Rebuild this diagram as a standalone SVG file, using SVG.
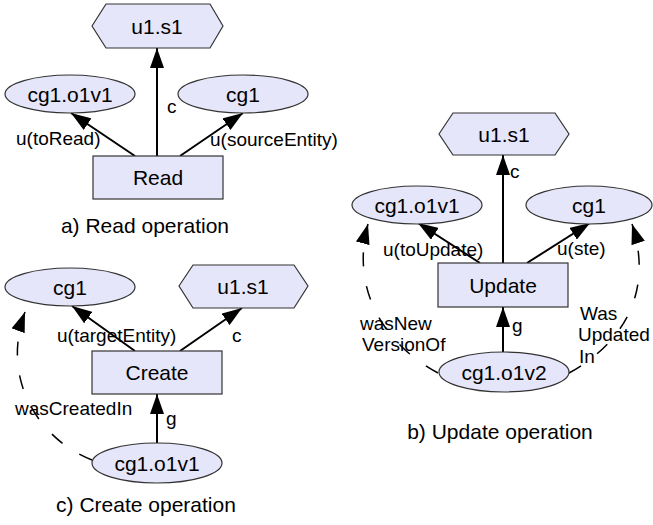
<svg xmlns="http://www.w3.org/2000/svg" width="653" height="525" viewBox="0 0 653 525">
<defs>
<style>
.n{fill:#E6E6FA;stroke:#333;stroke-width:1.2}
.t{font-family:"Liberation Sans",Arial,sans-serif;font-size:21px;fill:#000;text-anchor:middle}
.l{font-family:"Liberation Sans",Arial,sans-serif;font-size:19px;fill:#000}
.cap{font-family:"Liberation Sans",Arial,sans-serif;font-size:21px;fill:#000;text-anchor:middle}
.e{fill:none;stroke:#000;stroke-width:2;marker-end:url(#ah)}
.d{fill:none;stroke:#000;stroke-width:1.5;stroke-dasharray:14 20;marker-end:url(#ah)}
</style>
<marker id="ah" markerUnits="userSpaceOnUse" markerWidth="20" markerHeight="14" refX="20" refY="7" orient="auto" viewBox="0 0 20 14">
<path d="M0,0 L20,7 L0,14 z" fill="#000"/>
</marker>
</defs>
<rect width="653" height="525" fill="#fff"/>
<g id="connectors">
<!-- panel a -->
<line class="e" x1="157" y1="156" x2="157" y2="48"/>
<line class="e" x1="135" y1="156" x2="71" y2="113"/>
<line class="e" x1="180" y1="156" x2="243" y2="113"/>
<!-- panel b -->
<line class="e" x1="503" y1="263" x2="503" y2="155"/>
<line class="e" x1="480" y1="263" x2="418" y2="223"/>
<line class="e" x1="527" y1="263" x2="590" y2="223"/>
<line class="e" x1="503" y1="352" x2="503" y2="307"/>
<path class="d" d="M438,373 C385,345 350,290 368,224"/>
<path class="d" d="M569,373 C620,345 655,295 632,224"/>
<!-- panel c -->
<line class="e" x1="135" y1="351" x2="72" y2="306"/>
<line class="e" x1="180" y1="351" x2="242" y2="308"/>
<line class="e" x1="157" y1="443" x2="157" y2="394"/>
<path class="d" d="M92,460 C40,440 0,380 25,312"/>
</g>
<g id="labels">
<text class="l" x="16" y="145">u(toRead)</text>
<text class="l" x="210" y="146">u(sourceEntity)</text>
<text class="l" x="167" y="113">c</text>
<text class="l" x="510" y="178">c</text>
<text class="l" x="383" y="256">u(toUpdate)</text>
<text class="l" x="557" y="255">u(ste)</text>
<text class="l" x="512" y="332">g</text>
<text class="l" x="360" y="330">wasNew</text>
<text class="l" x="362" y="351">VersionOf</text>
<text class="l" x="580" y="320">Was</text>
<text class="l" x="578" y="341">Updated</text>
<text class="l" x="579" y="363">In</text>
<text class="l" x="57" y="342">u(targetEntity)</text>
<text class="l" x="232" y="342">c</text>
<text class="l" x="166" y="425">g</text>
<text class="l" x="15" y="415">wasCreatedIn</text>
<text class="cap" x="145" y="233">a) Read operation</text>
<text class="cap" x="500" y="439">b) Update operation</text>
<text class="cap" x="146" y="512">c) Create operation</text>
</g>
<g id="a_u1s1"><polygon class="n" points="92,26 106,4 210,4 223,26 210,48 106,48"/><text class="t" x="157" y="34">u1.s1</text></g>
<g id="a_cg1o1v1"><ellipse class="n" cx="70" cy="94" rx="65" ry="19"/><text class="t" x="70" y="102">cg1.o1v1</text></g>
<g id="a_cg1"><ellipse class="n" cx="243" cy="94" rx="65" ry="19"/><text class="t" x="243" y="102">cg1</text></g>
<g id="a_read"><rect class="n" x="93" y="156" width="130" height="43"/><text class="t" x="158" y="185">Read</text></g>
<g id="b_u1s1"><polygon class="n" points="439,134 453,113 555,113 569,134 555,155 453,155"/><text class="t" x="504" y="142">u1.s1</text></g>
<g id="b_cg1o1v1"><ellipse class="n" cx="417" cy="205" rx="65" ry="19"/><text class="t" x="417" y="213">cg1.o1v1</text></g>
<g id="b_cg1"><ellipse class="n" cx="589" cy="205" rx="63" ry="19"/><text class="t" x="589" y="213">cg1</text></g>
<g id="b_update"><rect class="n" x="438" y="263" width="130" height="44"/><text class="t" x="503" y="293">Update</text></g>
<g id="b_cg1o1v2"><ellipse class="n" cx="504" cy="372" rx="65" ry="20"/><text class="t" x="504" y="380">cg1.o1v2</text></g>
<g id="c_cg1"><ellipse class="n" cx="70" cy="287" rx="65" ry="19"/><text class="t" x="70" y="295">cg1</text></g>
<g id="c_u1s1"><polygon class="n" points="179,286 193,265 294,265 308,286 294,308 193,308"/><text class="t" x="243" y="294">u1.s1</text></g>
<g id="c_create"><rect class="n" x="92" y="351" width="130" height="43"/><text class="t" x="157" y="380">Create</text></g>
<g id="c_cg1o1v1"><ellipse class="n" cx="157" cy="463" rx="65" ry="20"/><text class="t" x="157" y="471">cg1.o1v1</text></g>
</svg>
